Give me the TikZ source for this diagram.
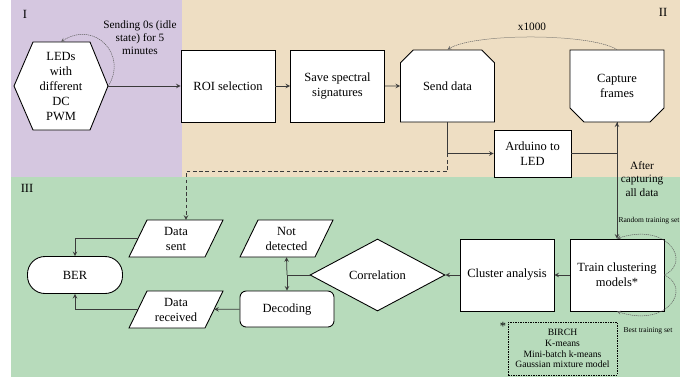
\documentclass[tikz,border=0pt]{standalone}
\usepackage{fontspec}
\setmainfont{Liberation Serif}
\usetikzlibrary{shapes.geometric, shapes.misc, arrows, positioning}
\definecolor{zonaI}{HTML}{D5C7E0}
\definecolor{zonaII}{HTML}{EEDEC3}
\definecolor{zonaIII}{HTML}{B7DBBB}
\definecolor{trazo}{HTML}{3A3A3A}
\tikzset{
	>=stealth, % Puntas de flecha gruesas
	forma/.style={draw, fill=white, line width=0.7pt}, % Contornos dibujados a mano
	caja/.style={forma, minimum width=75.2pt, minimum height=57.6pt, align=center, inner sep=1pt}, % Procesos
	hexa/.style={minimum width=75.2pt, minimum height=70.4pt, align=center, inner sep=1pt}, % Fuente de datos
	envio/.style={caja, chamfered rectangle, chamfered rectangle corners={north west, north east}, chamfered rectangle sep=5.6pt},
	captura/.style={caja, chamfered rectangle, chamfered rectangle corners={south west, south east}, chamfered rectangle sep=5.6pt},
	datos/.style={minimum width=60.8pt, minimum height=29.6pt, align=center, inner sep=1pt}, % Entradas y salidas
	decision/.style={forma, diamond, aspect=1.875, minimum width=108pt, minimum height=57.6pt, inner sep=0pt},
	terminal/.style={forma, rounded corners=14pt, minimum width=76pt, minimum height=29.6pt},
	proceso/.style={forma, rounded corners=5pt, minimum width=75.2pt, minimum height=28.8pt},
	leyenda/.style={draw, line width=0.6pt, dash pattern=on 1.2pt off 0.8pt, minimum width=87.2pt, minimum height=42.4pt, align=center, font=\fontsize{7.7}{8.7}\selectfont, inner sep=1pt},
	flecha/.style={->, draw=trazo, line width=0.6pt}, % Conexiones
	linea/.style={draw=trazo, line width=0.6pt},
	discont/.style={->, draw=trazo, line width=0.6pt, densely dashed},
	bucle/.style={->, draw=trazo!80, line width=0.4pt, dash pattern=on 1pt off 0.6pt}, % Repeticiones
	etiqueta/.style={align=center, inner sep=0pt, font=\fontsize{9}{10.5}\selectfont},
	mini/.style={inner sep=0pt, font=\fontsize{6}{7}\selectfont},
	zona/.style={inner sep=0pt}
}

\begin{document}
\begin{tikzpicture}[x=0.8pt, y=-0.8pt, font=\fontsize{10}{12}\selectfont]
	\useasboundingbox (0,0) rectangle (692,380);
	% Zonas
	\fill[zonaI] (11,0) rectangle (182,177);
	\fill[zonaII] (182,0) rectangle (680,177);
	\fill[zonaIII] (11,177) rectangle (680,377);
	\node[zona] (z1) at (25,14) {I};
	\node[zona] (z2) at (663,12) {II};
	\node[zona] (z3) at (27,188) {III};

	% Adquisicion
	\draw[forma] (14,86) -- (33,42) -- (90,42) -- (108,86) -- (90,130) -- (33,130) -- cycle;
	\node[hexa] (leds) at (61,86) {LEDs\\with\\different\\DC\\PWM};
	\node[caja] (roi) at (228,86) {ROI selection};
	\node[caja] (save) at (337.5,86) {Save spectral\\signatures};
	\node[envio] (send) at (447.5,86) {Send data};
	\node[captura] (capture) at (617,86) {Capture\\frames};
	\node[caja, minimum width=61.6pt, minimum height=37.6pt] (arduino) at (532.5,153.5) {Arduino to\\LED};

	% Analisis
	\node[caja] (train) at (617,275) {Train clustering\\models*};
	\node[caja] (cluster) at (507,275) {Cluster analysis};
	\node[decision] (corr) at (377.5,275) {Correlation};
	\draw[forma] (240,257) -- (258,220) -- (333,220) -- (315,257) -- cycle;
	\node[datos] (notdet) at (286.5,238.5) {Not\\detected};
	\node[proceso] (decoding) at (287,309) {Decoding};
	\draw[forma] (129,257) -- (147,220) -- (223,220) -- (205,257) -- cycle;
	\node[datos] (sent) at (176,238.5) {Data\\sent};
	\draw[forma] (129,328) -- (147,291) -- (223,291) -- (205,328) -- cycle;
	\node[datos] (recv) at (176,309.5) {Data\\received};
	\node[terminal] (ber) at (75,275) {BER};
	\node[leyenda] (models) at (562.5,348.5) {BIRCH\\K-means\\Mini-batch k-means\\Gaussian mixture model};
	\node[zona] (star) at (503,326) {*};

	\draw[flecha] (leds) -- (roi);
	\draw[flecha] (roi) -- (save);
	\draw[flecha] (save) -- (send);
	\draw[flecha] (send.south) |- (arduino.west);
	\draw[flecha] (arduino.east) -| (capture.south);
	\draw[flecha] (capture.south) -- (train.north);
	\draw[discont] (send.south) -- ++(0,49) -| ([xshift=8pt]sent.north);
	\draw[flecha] (train) -- (cluster);
	\draw[flecha] (cluster) -- (corr);
	\coordinate (nudo) at (corr.west -| decoding.north);
	\draw[linea] (corr.west) -- (nudo);
	\draw[flecha] (nudo) -- (notdet.south);
	\draw[flecha] (nudo) -- (decoding.north);
	\draw[flecha] (decoding) -- (recv);
	\draw[flecha] (recv.west) -| (ber.south);
	\draw[flecha] (sent.west) -| (ber.north);

	% Bucles
	\draw[bucle] (leds.east) .. controls (128,55) and (95,20) .. (leds.north);
	\node[etiqueta] (idle) at (140,38) {Sending 0s (idle\\state) for 5\\minutes};
	\draw[bucle] (capture.north) .. controls (590,33) and (475,33) .. (send.north);
	\node[etiqueta] (veces) at (532,27) {x1000};
	\node[etiqueta] (after) at (642,179) {After\\capturing\\all data};
	\draw[bucle] (train.east) .. controls (692,262) and (668,222) .. (train.north);
	\draw[bucle] (train.east) .. controls (692,288) and (668,328) .. (train.south);
	\node[mini] (random) at (649,221) {Random training set};
	\node[mini] (best) at (648,331) {Best training set};
\end{tikzpicture}
\end{document}
